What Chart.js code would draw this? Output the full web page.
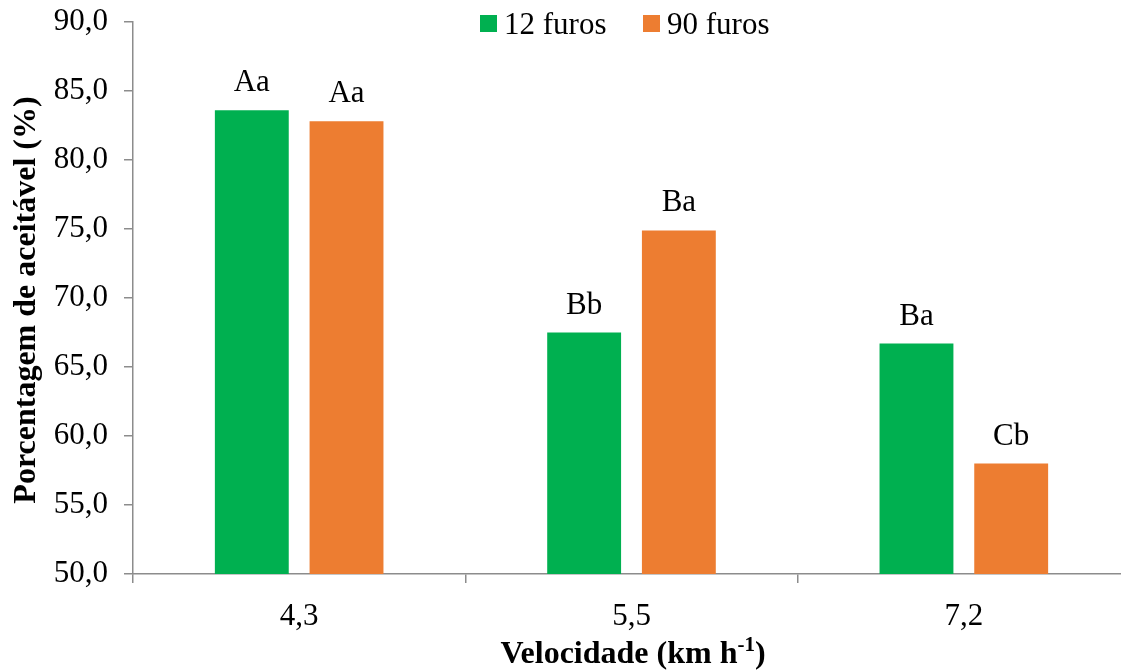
<!DOCTYPE html>
<html>
<head>
<meta charset="utf-8">
<script src="https://cdn.jsdelivr.net/npm/chart.js@4/dist/chart.umd.min.js"></script>
<style>
  html, body { margin: 0; padding: 0; background: #fff; overflow: hidden; }
  #wrap { width: 1130px; height: 671px; }
</style>
</head>
<body>
<div id="wrap"><canvas id="c" width="1130" height="671"></canvas></div>
<script>
const categories = ['4,3', '5,5', '7,2'];
const seriesNames = ['12 furos', '90 furos'];
const values12 = [83.6, 67.5, 66.7];
const values90 = [82.8, 74.9, 58.0];
const labels12 = ['Aa', 'Bb', 'Ba'];
const labels90 = ['Aa', 'Ba', 'Cb'];
const yTicks = [50, 55, 60, 65, 70, 75, 80, 85, 90];
const yTitle = 'Porcentagem de aceitável (%)';
const xTitleMain = 'Velocidade (km h';
const xTitleSup = '-1';
const xTitleEnd = ')';

const GREEN = '#00B050';
const ORANGE = '#ED7D31';
const AXIS = '#8c8c8c';
const FONT = 'Liberation Serif';
const FS = 31;
const TS = 32;

const barLabels = [labels12, labels90];

const labelPlugin = {
  id: 'barLabels',
  afterDatasetsDraw(chart) {
    const ctx = chart.ctx;
    ctx.save();
    ctx.font = FS + 'px "' + FONT + '"';
    ctx.fillStyle = '#000';
    ctx.textAlign = 'center';
    ctx.textBaseline = 'alphabetic';
    chart.data.datasets.forEach((ds, i) => {
      const meta = chart.getDatasetMeta(i);
      meta.data.forEach((el, j) => {
        ctx.fillText(barLabels[i][j], el.x, el.y - 19);
      });
    });
    ctx.restore();
  }
};

const decorPlugin = {
  id: 'decor',
  afterDraw(chart) {
    const ctx = chart.ctx;
    ctx.save();
    // legend
    ctx.font = FS + 'px "' + FONT + '"';
    ctx.textBaseline = 'alphabetic';
    ctx.textAlign = 'left';
    const legendItems = [
      { x: 480, color: GREEN, text: seriesNames[0] },
      { x: 643, color: ORANGE, text: seriesNames[1] }
    ];
    legendItems.forEach(it => {
      ctx.fillStyle = it.color;
      ctx.fillRect(it.x, 15, 17, 17);
      ctx.fillStyle = '#000';
      ctx.fillText(it.text, it.x + 24, 34);
    });
    // y title
    ctx.font = 'bold ' + TS + 'px "' + FONT + '"';
    ctx.textAlign = 'center';
    ctx.textBaseline = 'middle';
    ctx.translate(27, 300);
    ctx.rotate(-Math.PI / 2);
    ctx.fillText(yTitle, 0, 0);
    ctx.setTransform(1, 0, 0, 1, 0, 0);
    // x title with superscript
    const mainFont = 'bold ' + TS + 'px "' + FONT + '"';
    const supFont = 'bold 21px "' + FONT + '"';
    ctx.textAlign = 'left';
    ctx.textBaseline = 'alphabetic';
    ctx.font = mainFont;
    const w1 = ctx.measureText(xTitleMain).width;
    const w3 = ctx.measureText(xTitleEnd).width;
    ctx.font = supFont;
    const w2 = ctx.measureText(xTitleSup).width;
    const total = w1 + w2 + w3;
    let x = 633 - total / 2;
    const base = 663;
    ctx.font = mainFont;
    ctx.fillText(xTitleMain, x, base);
    x += w1;
    ctx.font = supFont;
    ctx.fillText(xTitleSup, x, base - 12);
    x += w2;
    ctx.font = mainFont;
    ctx.fillText(xTitleEnd, x, base);
    ctx.restore();
  }
};

function build() {
  new Chart(document.getElementById('c'), {
    type: 'bar',
    data: {
      labels: categories,
      datasets: [
        { label: seriesNames[0], data: values12, backgroundColor: GREEN, borderWidth: 0 },
        { label: seriesNames[1], data: values90, backgroundColor: ORANGE, borderWidth: 0 }
      ]
    },
    options: {
      responsive: false,
      animation: false,
      devicePixelRatio: 1,
      layout: { padding: { top: 22, left: 0, right: 0, bottom: 0 } },
      categoryPercentage: 0.57,
      barPercentage: 0.78,
      plugins: {
        legend: { display: false },
        tooltip: { enabled: false }
      },
      scales: {
        x: {
          type: 'category',
          offset: true,
          grid: { offset: true, drawOnChartArea: false, drawTicks: true, tickLength: 9, color: AXIS, lineWidth: 1.5 },
          border: { color: AXIS, width: 1.5 },
          ticks: { color: '#000', font: { family: FONT, size: FS }, padding: 15 },
          afterFit(scale) { scale.height = 97; scale.paddingLeft = 0; scale.paddingRight = 0; }
        },
        y: {
          min: 50,
          max: 90,
          afterBuildTicks(scale) { scale.ticks = yTicks.map(v => ({ value: v })); },
          grid: { drawOnChartArea: false, drawTicks: true, tickLength: 9, color: AXIS, lineWidth: 1.5 },
          border: { color: AXIS, width: 1.5 },
          ticks: {
            color: '#000',
            font: { family: FONT, size: FS },
            padding: 16,
            callback: (v) => Number(v).toFixed(1).replace('.', ',')
          },
          afterFit(scale) { scale.width = 133; scale.paddingTop = 0; scale.paddingBottom = 0; }
        }
      }
    },
    plugins: [labelPlugin, decorPlugin]
  });
}

Promise.all([
  document.fonts.load(FS + 'px "' + FONT + '"'),
  document.fonts.load('bold ' + TS + 'px "' + FONT + '"')
]).then(build, build);
</script>
</body>
</html>
